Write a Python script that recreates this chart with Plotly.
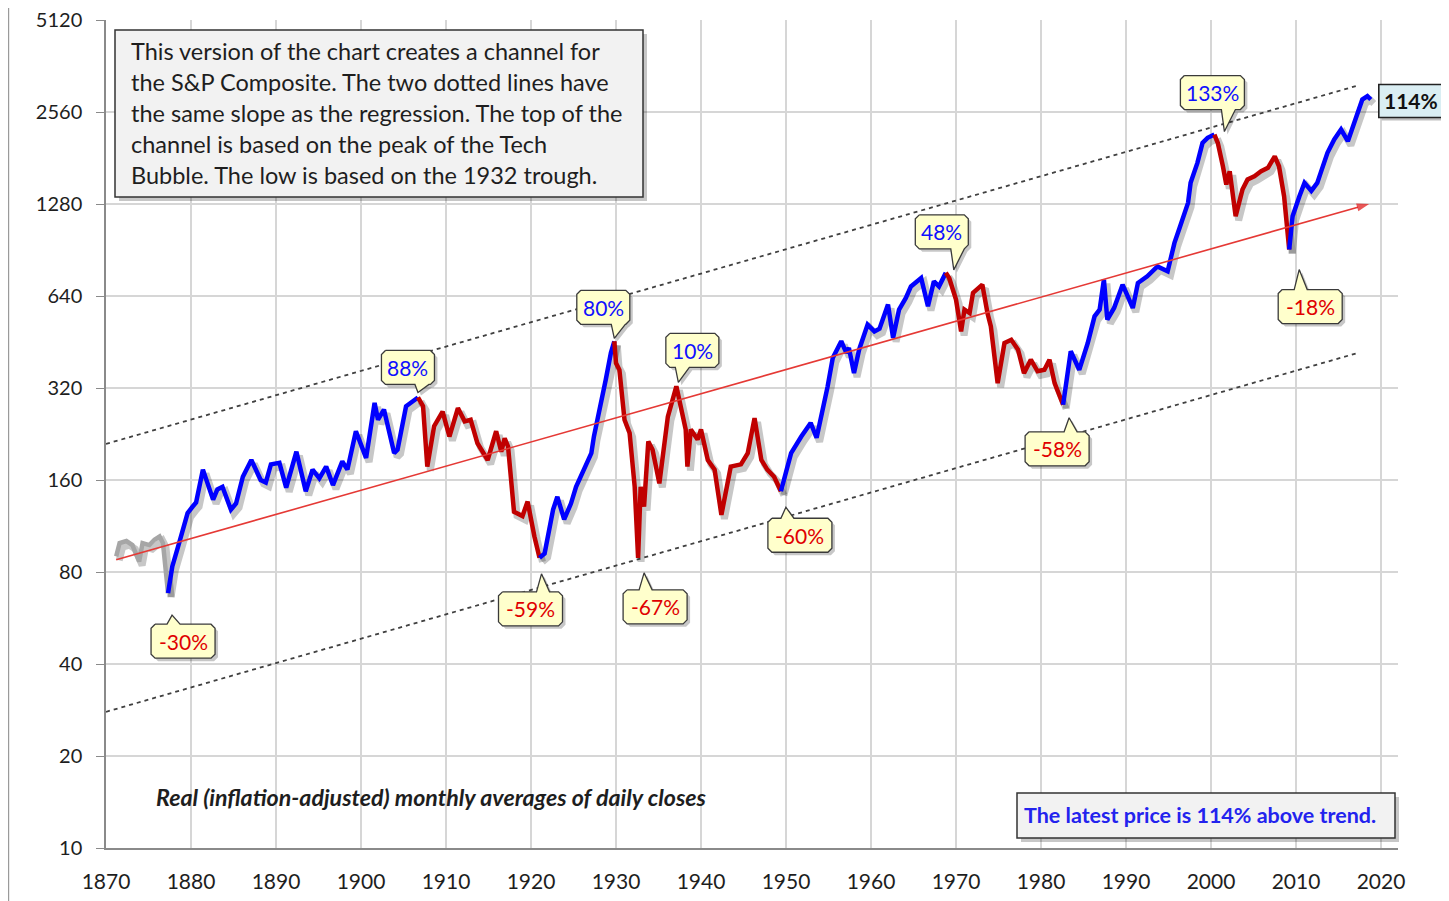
import math
import plotly.graph_objects as go

# ---------------- data ----------------
years = [
    1871.2, 1871.6, 1872.4, 1873.1, 1873.9, 1874.3, 1875.1, 1875.7, 1876.3, 1876.7, 1877.3,
    1877.8, 1878.6, 1879.6, 1880.2, 1880.6, 1881.4, 1882.6, 1883.1, 1883.7, 1884.7, 1885.3,
    1886.1, 1887.1, 1888.2, 1888.8, 1889.4, 1890.4, 1891.2, 1892.4, 1893.5, 1894.3, 1895.1,
    1895.9, 1896.7, 1897.8, 1898.4, 1899.4, 1900.6, 1901.6, 1902.0, 1902.7, 1903.9, 1904.3,
    1905.3, 1906.1, 1906.7,
    1907.3, 1907.8, 1908.6, 1909.6, 1910.4, 1911.4, 1912.2, 1912.9, 1913.7, 1914.9, 1915.9,
    1916.5, 1916.9, 1917.3, 1918.0, 1919.0, 1919.6, 1920.4, 1921.0,
    1921.6, 1922.6, 1923.1, 1923.9, 1924.7, 1925.3, 1926.3, 1927.1, 1927.4, 1928.2, 1928.8,
    1929.4, 1929.8,
    1930.0, 1930.4, 1931.0, 1931.6, 1932.2, 1932.6, 1932.9, 1933.3, 1933.8, 1934.3, 1935.1,
    1936.1, 1937.1, 1938.2, 1938.4, 1938.8, 1939.6, 1940.0, 1940.8, 1941.6, 1942.4, 1943.5,
    1944.7, 1945.5, 1946.3, 1947.1, 1947.8, 1948.6, 1949.4,
    1950.6, 1951.8, 1952.9, 1953.6, 1954.1, 1954.9, 1955.5, 1956.5, 1957.1, 1957.4, 1958.0,
    1958.6, 1959.6, 1960.4, 1961.0, 1962.0, 1962.6, 1963.3, 1964.1, 1964.7, 1965.9, 1966.7,
    1967.4, 1968.0, 1968.4, 1968.8,
    1969.2, 1970.0, 1970.6, 1971.0, 1971.6, 1972.0, 1972.5, 1973.1, 1973.7, 1974.1, 1974.9,
    1975.7, 1976.5, 1977.3, 1978.0, 1978.8, 1979.6, 1980.4, 1981.0, 1981.6, 1982.6,
    1983.5, 1984.5, 1985.5, 1986.3, 1986.9, 1987.4, 1987.8, 1988.6, 1989.6, 1990.8, 1991.4,
    1992.5, 1993.7, 1994.9, 1995.7, 1996.3, 1997.3, 1997.6, 1998.4, 1999.0, 1999.6, 2000.4,
    2000.8, 2001.4, 2001.8, 2002.2, 2002.9, 2003.7, 2004.3, 2005.1, 2005.9, 2006.7, 2007.5,
    2008.0, 2008.6, 2009.2,
    2009.6, 2010.4, 2011.0, 2011.8, 2012.5, 2012.9, 2013.7, 2014.5, 2015.3, 2016.1, 2016.8,
    2017.8, 2018.4, 2018.8,
]
real_price = [
    90, 99.5, 101, 98, 86.6, 99.5, 98, 102, 104.5, 99.5, 68.2,
    83.4, 99.5, 124.7, 131, 135, 173, 138, 149, 152, 128, 134,
    164, 186, 160, 157, 180, 182, 151, 198, 147, 173, 162,
    177, 154, 184, 173, 231, 189, 286, 252, 272, 196, 201,
    279, 289, 298,
    279, 177, 240, 268, 222, 275, 249, 252, 211, 186, 231,
    198, 219, 206, 126, 122, 136, 104.5, 89,
    92, 128, 141, 119, 134, 152, 177, 196, 222, 279, 341,
    417, 455,
    386, 367, 252, 228, 152, 89, 152, 131, 214, 201, 156,
    258, 324, 234, 177, 234, 217, 234, 186, 173, 123, 177,
    180, 196, 255, 186, 173, 164, 147,
    196, 222, 246, 220, 252, 324, 401, 455, 417, 433, 358,
    427, 516, 490, 500, 600, 467, 578, 631, 688, 733, 592,
    715, 688, 724, 762,
    733, 623, 490, 578, 563, 655, 671, 697, 563, 509, 332,
    449, 460, 427, 358, 396, 363, 367, 396, 332, 282,
    422, 367, 449, 549, 578, 724, 536, 585, 697, 585, 706,
    742, 800, 771, 955, 1069, 1291, 1501, 1745, 2029, 2107, 2160,
    2029, 1701, 1482, 1638, 1167, 1427, 1539, 1578, 1638, 1681, 1834,
    1701, 1357, 908,
    1167, 1357, 1501, 1413, 1500, 1618, 1882, 2081, 2243, 2054, 2359,
    2813, 2884, 2813,
]

phase_start_years = [1871.2, 1877.3, 1906.7, 1921.0, 1929.8, 1949.4, 1968.8, 1982.6, 2000.4, 2009.2]
phase_kinds = ["early", "bull", "bear", "bull", "bear", "bull", "bear", "bull", "bear", "bull"]

trend_years = [1871.2, 2018.6]
trend_values = [87.7, 1280]
upper_channel_years = [1870, 2017.3]
upper_channel_values = [210, 3127]
lower_channel_years = [1870, 2017.3]
lower_channel_values = [27.9, 417]

callout_years = [1877.3, 1906.7, 1921.0, 1929.8, 1932.6, 1937.1, 1949.4, 1968.8, 1982.6, 2000.4, 2009.2]
callout_labels = ["-30%", "88%", "-59%", "80%", "-67%", "10%", "-60%", "48%", "-58%", "133%", "-18%"]
latest_label = "114%"

x_tick_years = list(range(1870, 2021, 10))
y_tick_values = [10, 20, 40, 80, 160, 320, 640, 1280, 2560, 5120]

note_lines = [
    "This version of the chart creates a channel for",
    "the S&P Composite. The two dotted lines have",
    "the same slope as the regression. The top of the",
    "channel is based on the peak of the Tech",
    "Bubble. The low is based on the 1932 trough.",
]
footnote_text = "Real (inflation-adjusted) monthly averages of daily closes"
latest_text = "The latest price is 114% above trend."

# ---------------- layout / style ----------------
PAGE_OFF = 8                    # default page margin of the html body
VIEW_W, VIEW_H = 1449, 901
PLOT_L, PLOT_T, PLOT_R, PLOT_B = 106, 20, 1398, 848   # target plot area in page pixels
PLOT_W = PLOT_R - PLOT_L
PLOT_H = PLOT_B - PLOT_T
W, H = VIEW_W - PAGE_OFF, VIEW_H - PAGE_OFF
M_L, M_T = PLOT_L - PAGE_OFF, PLOT_T - PAGE_OFF
M_R, M_B = W - M_L - PLOT_W, H - M_T - PLOT_H
X_MIN, X_MAX = 1870, 2022
Y_MIN, Y_MAX = 10, 5120
PX_PER_YEAR = PLOT_W / (X_MAX - X_MIN)
PX_PER_DEC = PLOT_H / (math.log10(Y_MAX) - math.log10(Y_MIN))
FONT = "Lato"
TEXT_COLOR = "#1E1E1E"

COLORS = {"early": "#A6A6A6", "bull": "#0000FF", "bear": "#C00000"}

# callout geometry in pixels relative to the anchored data point: box centre offset, tail tip offset
callout_box_offsets = [(15, 48), (-10, -30), (-9, 51), (-11, -34), (17, 49), (16, -36),
                       (19, 44), (-4, -41), (-6, 44), (-2, -42), (21, 57)]
callout_tip_offsets = [(4, 22), (0, -5), (2, 16), (0, -3), (6, 15), (2, -4),
                       (5, 16), (8, -3), (6, 13), (10, -3), (10, 20)]


def shift(year, value, dx, dy):
    """Move a data point by (dx, dy) screen pixels (dy positive = down)."""
    return year + dx / PX_PER_YEAR, value * 10 ** (-dy / PX_PER_DEC)


def px_x(px):
    return (px - PLOT_L) / PLOT_W


def px_y(py):
    return (PLOT_B - py) / PLOT_H


def data_to_px(year, value):
    return (PLOT_L + (year - X_MIN) * PX_PER_YEAR,
            PLOT_B - (math.log10(value) - math.log10(Y_MIN)) * PX_PER_DEC)


def nearest_index(yr):
    return min(range(len(years)), key=lambda i: abs(years[i] - yr))


fig = go.Figure()

# channel lines
for cy, cv in ((upper_channel_years, upper_channel_values), (lower_channel_years, lower_channel_values)):
    fig.add_trace(go.Scatter(x=cy, y=cv, mode="lines",
                             line=dict(color="#404040", width=1.8, dash="4px,4px"),
                             hoverinfo="skip", showlegend=False))

# phase segments
segments = []
for i, start in enumerate(phase_start_years):
    end = phase_start_years[i + 1] if i + 1 < len(phase_start_years) else 1e9
    idx = [k for k, yv in enumerate(years) if start - 1e-9 <= yv <= end + 1e-9]
    segments.append((phase_kinds[i], [years[k] for k in idx], [real_price[k] for k in idx]))

# shadow of the price line
for kind, sx, sy in segments:
    shx, shy = [], []
    for a, b in zip(sx, sy):
        p = shift(a, b, 3, 4)
        shx.append(p[0]); shy.append(p[1])
    fig.add_trace(go.Scatter(x=shx, y=shy, mode="lines",
                             line=dict(color="rgba(0,0,0,0.22)", width=7),
                             hoverinfo="skip", showlegend=False))

for kind, sx, sy in segments:
    fig.add_trace(go.Scatter(x=sx, y=sy, mode="lines",
                             line=dict(color=COLORS[kind], width=4.5),
                             showlegend=False))

# regression trend with arrow
fig.add_trace(go.Scatter(x=trend_years, y=trend_values, mode="lines+markers",
                         line=dict(color="#E53935", width=1.6),
                         marker=dict(symbol=["circle", "arrow"], size=[0, 13], color="#E01010",
                                     angleref="previous", line=dict(width=0)),
                         hoverinfo="skip", showlegend=False))


def callout_poly(cx, cy, w, h, tip, below, r=4):
    L, R, T, B = cx - w / 2, cx + w / 2, cy - h / 2, cy + h / 2
    tx, ty = tip
    if not below:  # box above point, tail on bottom edge
        bl, br = max(tx - 3, L + r), min(tx + 11, R - r)
        pts = [(L + r, T), (R - r, T), (R, T + r), (R, B - r), (R - r, B), (br, B), (tx, ty), (bl, B),
               (L + r, B), (L, B - r), (L, T + r), (L + r, T)]
    else:  # box below point, tail on top edge
        bl, br = max(tx - 5, L + r), min(tx + 8, R - r)
        pts = [(L + r, T), (bl, T), (tx, ty), (br, T), (R - r, T), (R, T + r), (R, B - r), (R - r, B),
               (L + r, B), (L, B - r), (L, T + r), (L + r, T)]
    return pts


annotations = []
for yr, lab, boff, toff in zip(callout_years, callout_labels, callout_box_offsets, callout_tip_offsets):
    k = nearest_index(yr)
    ax_, av_ = years[k], real_price[k]
    w = 20 + 11 * len(lab)
    h = 34
    below = boff[1] > 0
    pts = callout_poly(boff[0], boff[1], w, h, toff, below)
    for sdx, sdy, fillc, lw in ((3, 3, "rgba(0,0,0,0.22)", 0), (0, 0, "#FFFFCC", 1.3)):
        px_, py_ = [], []
        for (dx, dy) in pts:
            p = shift(ax_, av_, dx + sdx, dy + sdy)
            px_.append(p[0]); py_.append(p[1])
        fig.add_trace(go.Scatter(x=px_, y=py_, mode="lines", fill="toself", fillcolor=fillc,
                                 line=dict(color="#3A3A3A", width=lw) if lw else dict(width=0),
                                 hoverinfo="skip", showlegend=False))
    cxy = shift(ax_, av_, boff[0], boff[1])
    neg = lab.startswith("-")
    annotations.append(dict(x=cxy[0], y=math.log10(cxy[1]), xref="x", yref="y", text=lab,
                            xanchor="center", yanchor="middle",
                            showarrow=False, font=dict(family=FONT, size=21,
                                                       color="#E00000" if neg else "#1010FF")))

shapes = []

# latest-value box (114%), placed just right of the last data point
lpx, lpy = data_to_px(years[-1], real_price[-1])
lb = (lpx + 8, lpy - 15, lpx + 72, lpy + 18)
shapes.append(dict(type="rect", xref="paper", yref="paper", x0=px_x(lb[0] + 3), x1=px_x(lb[2] + 3),
                   y0=px_y(lb[3] + 3), y1=px_y(lb[1] + 3), fillcolor="rgba(0,0,0,0.25)", line=dict(width=0)))
shapes.append(dict(type="rect", xref="paper", yref="paper", x0=px_x(lb[0]), x1=px_x(lb[2]),
                   y0=px_y(lb[3]), y1=px_y(lb[1]), fillcolor="#DAEEF3", line=dict(color="#222222", width=1.6)))
annotations.append(dict(x=px_x((lb[0] + lb[2]) / 2), y=px_y((lb[1] + lb[3]) / 2), xref="paper", yref="paper",
                        xanchor="center", yanchor="middle",
                        text="<b>%s</b>" % latest_label, showarrow=False,
                        font=dict(family=FONT, size=21, color="#111111")))

# note box (top-left)
nb = (115, 30, 643, 197)
shapes.append(dict(type="rect", xref="paper", yref="paper", x0=px_x(nb[0] + 4), x1=px_x(nb[2] + 4),
                   y0=px_y(nb[3] + 4), y1=px_y(nb[1] + 4), fillcolor="rgba(0,0,0,0.22)", line=dict(width=0)))
shapes.append(dict(type="rect", xref="paper", yref="paper", x0=px_x(nb[0]), x1=px_x(nb[2]),
                   y0=px_y(nb[3]), y1=px_y(nb[1]), fillcolor="#F2F2F2", line=dict(color="#333333", width=1.5)))
for i, line in enumerate(note_lines):
    annotations.append(dict(x=px_x(129), y=px_y(51 + 31 * i), xref="paper", yref="paper", text=line,
                            xanchor="left", yanchor="middle", showarrow=False,
                            font=dict(family=FONT, size=23.5, color=TEXT_COLOR)))

# footnote
annotations.append(dict(x=px_x(154), y=px_y(797), xref="paper", yref="paper",
                        text="<b><i>%s</i></b>" % footnote_text, xanchor="left", yanchor="middle",
                        showarrow=False, font=dict(family=FONT, size=23.2, color=TEXT_COLOR)))

# latest text box (bottom-right)
bb = (1017, 793, 1395, 838)
shapes.append(dict(type="rect", xref="paper", yref="paper", x0=px_x(bb[0] + 4), x1=px_x(bb[2] + 4),
                   y0=px_y(bb[3] + 4), y1=px_y(bb[1] + 4), fillcolor="rgba(0,0,0,0.22)", line=dict(width=0)))
shapes.append(dict(type="rect", xref="paper", yref="paper", x0=px_x(bb[0]), x1=px_x(bb[2]),
                   y0=px_y(bb[3]), y1=px_y(bb[1]), fillcolor="#F2F2F2", line=dict(color="#333333", width=1.5)))
annotations.append(dict(x=px_x(1022), y=px_y(815), xref="paper", yref="paper",
                        text="<b>%s</b>" % latest_text, xanchor="left", yanchor="middle",
                        showarrow=False, font=dict(family=FONT, size=21.5, color="#2323EE")))

# outer chart frame
shapes.append(dict(type="rect", xref="paper", yref="paper", x0=px_x(8.6), x1=px_x(1445),
                   y0=px_y(915), y1=px_y(-10), line=dict(color="#9A9A9A", width=1.2), layer="below"))

fig.update_layout(
    width=W, height=H,
    margin=dict(l=M_L, r=M_R, t=M_T, b=M_B, pad=0, autoexpand=False),
    paper_bgcolor="white", plot_bgcolor="white",
    showlegend=False,
    shapes=shapes,
    annotations=annotations,
    font=dict(family=FONT, size=21, color=TEXT_COLOR),
)
fig.update_xaxes(range=[X_MIN, X_MAX], tickvals=x_tick_years, ticktext=[str(v) for v in x_tick_years],
                 showgrid=True, gridcolor="#D6D6D6", gridwidth=1.5, zeroline=False, automargin=False,
                 showline=True, linecolor="#8A8A8A", linewidth=1.5, ticks="",
                 ticklabelstandoff=14, ticklabeloverflow="allow",
                 tickfont=dict(family=FONT, size=21, color=TEXT_COLOR))
fig.update_yaxes(type="log", range=[math.log10(Y_MIN), math.log10(Y_MAX)],
                 tickvals=y_tick_values, ticktext=[str(v) for v in y_tick_values],
                 showgrid=True, gridcolor="#D6D6D6", gridwidth=1.5, zeroline=False, automargin=False,
                 showline=True, linecolor="#8A8A8A", linewidth=1.5, ticks="outside", ticklen=8,
                 tickcolor="#8A8A8A", ticklabelstandoff=10, ticklabeloverflow="allow",
                 tickfont=dict(family=FONT, size=20, color=TEXT_COLOR))

fig.write_html("out.html")
